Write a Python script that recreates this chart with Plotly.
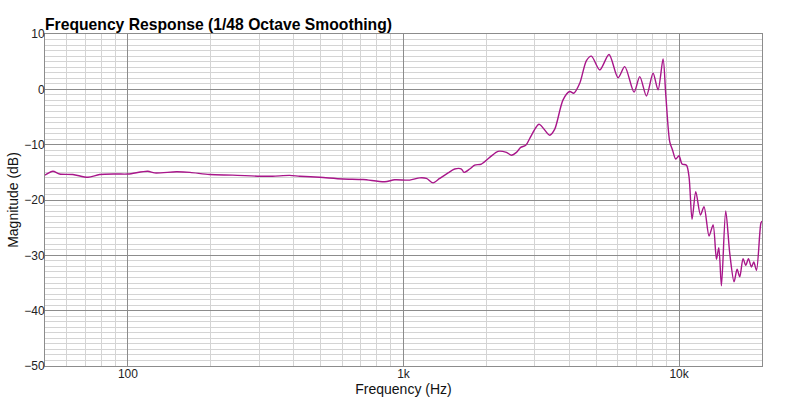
import plotly.graph_objects as go

freq_hz = [50, 50.8, 53.4, 56.5, 63.1, 71.6, 78.9, 90.8, 100, 118, 125, 150, 168, 198, 240,
           301, 335, 386, 420, 496, 603, 713, 855, 929, 1053, 1145, 1211, 1280, 1353, 1451,
           1534, 1623, 1658, 1739, 1813, 1917, 2055, 2203, 2363, 2464, 2570, 2663, 2777, 2912,
           3103, 3393, 3539, 3793, 4011, 4148, 4361, 4612, 4808, 5154, 5570, 6006, 6352, 6866,
           7202, 7616, 8047, 8391, 8749, 8950, 9252, 9460, 9727, 10000, 10250, 10640, 10870,
           11150, 11500, 11960, 12320, 12850, 13290, 13670, 13940, 14250, 14770, 15280, 15840,
           16240, 16610, 17070, 17460, 17860, 18310, 18670, 19100, 19810, 20000]
magnitude_db = [-15.5, -15.3, -14.8, -15.3, -15.4, -15.9, -15.4, -15.3, -15.3, -14.8, -15.1, -14.9,
                -15.0, -15.4, -15.5, -15.7, -15.7, -15.55, -15.7, -15.9, -16.2, -16.3, -16.7,
                -16.35, -16.4, -16.0, -16.1, -16.9, -16.1, -15.1, -14.4, -14.4, -15.0, -14.4,
                -13.7, -13.5, -12.3, -11.2, -11.4, -11.9, -11.4, -10.5, -10.1, -8.3, -6.3, -8.3,
                -7.2, -1.9, -0.4, -0.7, 1.1, 5.2, 6.0, 3.5, 6.3, 2.1, 4.1, -0.5, 2.3, -1.2, 2.9,
                -0.1, 5.5, -1.0, -9.5, -10.9, -12.6, -12.0, -13.5, -13.7, -15.8, -23.5, -18.5,
                -22.7, -21.2, -26.5, -24.5, -30.7, -28.6, -35.5, -22.0, -29.7, -34.8, -32.5,
                -33.9, -30.6, -31.8, -30.6, -32.1, -31.2, -32.7, -24.2, -23.8]

title_text = "Frequency Response (1/48 Octave Smoothing)"
x_title = "Frequency (Hz)"
y_title = "Magnitude (dB)"

fig = go.Figure()
fig.add_trace(go.Scatter(
    x=freq_hz, y=magnitude_db, mode="lines",
    line=dict(color="#A8168A", width=1.4, shape="spline", smoothing=0.8),
    showlegend=False, hoverinfo="skip",
))

font_family = "Liberation Sans, Arial, sans-serif"

W, H = 794, 405
fig.update_layout(
    width=W, height=H,
    margin=dict(l=45, r=32, t=34, b=39, autoexpand=False),
    paper_bgcolor="white", plot_bgcolor="white",
    font=dict(family=font_family, color="#222222", size=12),
    title=dict(text="<b>" + title_text + "</b>", x=45 / W, xanchor="left",
               y=1 - 25 / H, yanchor="middle",
               font=dict(size=15.7, color="#000000", family=font_family)),
)

fig.update_xaxes(
    type="log", range=[1.69897, 4.30103],
    dtick=1, tickformat="~s", ticks="",
    showgrid=True, gridcolor="#8c8c8c", gridwidth=1,
    minor=dict(dtick="D1", showgrid=True, gridcolor="#d4d4d4", gridwidth=1, ticks=""),
    showline=True, linecolor="#8c8c8c", linewidth=1, mirror=True,
    zeroline=False, automargin=False, ticklabelstandoff=-3,
    tickfont=dict(size=12, color="#222222"),
    title=dict(text=x_title, font=dict(size=14, color="#111111"), standoff=2),
)
fig.update_yaxes(
    range=[-50, 10], dtick=10, ticks="",
    showgrid=True, gridcolor="#8c8c8c", gridwidth=1,
    minor=dict(dtick=1, showgrid=True, gridcolor="#d4d4d4", gridwidth=1, ticks=""),
    showline=True, linecolor="#8c8c8c", linewidth=1, mirror=True,
    zeroline=False, automargin=False, ticklabelstandoff=-3,
    tickfont=dict(size=12, color="#222222"),
    title=dict(text=y_title, font=dict(size=14, color="#111111"), standoff=2),
)

fig.write_html("out.html", config={"displayModeBar": False},
               post_script="document.body.style.margin='0px';")
